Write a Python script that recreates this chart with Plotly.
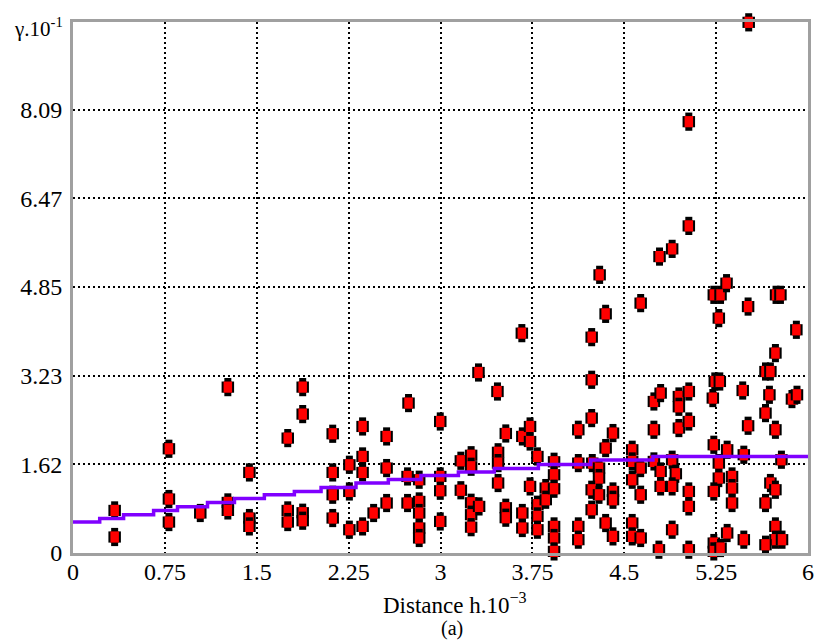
import plotly.graph_objects as go

# ---------------- data ----------------
dist = [
    0.340, 0.340, 0.783, 0.783, 0.783, 1.039, 1.264, 1.264, 1.264, 1.440,
    1.440, 1.440, 1.753, 1.753, 1.753, 1.875, 1.875, 1.875, 1.875, 2.120,
    2.120, 2.120, 2.120, 2.256, 2.256, 2.256, 2.364, 2.364, 2.364, 2.364,
    2.454, 2.560, 2.560, 2.560, 2.739, 2.731, 2.731, 2.826, 2.826, 2.826,
    2.826, 2.826, 2.998, 2.998, 2.998, 2.998, 3.166, 3.166, 3.250, 3.250,
    3.250, 3.250, 3.250, 3.315, 3.310, 3.465, 3.470, 3.470, 3.470, 3.533,
    3.533, 3.533, 3.664, 3.668, 3.731, 3.731, 3.668, 3.668, 3.731, 3.791,
    3.791, 3.791, 3.791, 3.859, 3.859, 3.927, 3.927, 3.927, 3.927, 3.927,
    3.927, 4.125, 4.125, 4.125, 4.125, 4.234, 4.234, 4.234, 4.239, 4.294,
    4.294, 4.234, 4.294, 4.234, 4.299, 4.348, 4.348, 4.408, 4.408, 4.408,
    4.348, 4.408, 4.565, 4.565, 4.634, 4.565, 4.634, 4.565, 4.565, 4.634,
    4.634, 4.742, 4.797, 4.742, 4.742, 4.797, 4.797, 4.783, 4.788, 4.891,
    4.891, 4.921, 4.891, 4.891, 4.946, 4.946, 4.946, 5.027, 5.027, 5.027,
    5.027, 5.027, 5.027, 5.027, 5.231, 5.286, 5.335, 5.272, 5.239, 5.280,
    5.223, 5.231, 5.340, 5.272, 5.272, 5.231, 5.380, 5.380, 5.380, 5.340,
    5.231, 5.231, 5.286, 5.476, 5.467, 5.511, 5.476, 5.511, 5.516, 5.653,
    5.693, 5.734, 5.739, 5.775, 5.905, 5.685, 5.869, 5.910, 5.653, 5.734,
    5.783, 5.693, 5.734, 5.653, 5.734, 5.734, 5.788, 5.653,
]
gamma = [
    0.777, 0.292, 1.902, 0.985, 0.565, 0.730, 3.027, 0.923, 0.777, 1.470,
    0.638, 0.485, 2.097, 0.777, 0.565, 3.027, 2.535, 0.735, 0.589, 2.176,
    1.470, 1.063, 0.638, 1.610, 1.123, 0.425, 2.309, 1.762, 1.470, 0.485,
    0.730, 2.127, 1.550, 0.912, 2.736, 1.397, 0.912, 1.337, 0.941, 0.730,
    0.456, 0.274, 2.400, 1.397, 1.136, 0.576, 1.683, 1.145, 1.784, 1.574,
    0.917, 0.699, 0.471, 0.850, 3.294, 2.947, 1.838, 1.641, 1.277, 2.181,
    0.826, 0.644, 4.012, 2.127, 2.309, 2.035, 0.730, 0.456, 1.215, 1.762,
    0.881, 0.668, 0.425, 1.185, 0.972, 1.665, 1.428, 1.173, 0.485, 0.274,
    0.029, 2.249, 1.641, 0.485, 0.243, 3.939, 3.161, 2.462, 1.641, 1.550,
    1.368, 1.154, 1.063, 0.790, 5.076, 4.364, 1.915, 2.189, 1.123, 0.972,
    0.547, 0.303, 1.884, 1.671, 1.550, 1.337, 1.063, 0.547, 0.303, 0.274,
    4.560, 2.765, 2.918, 2.249, 1.671, 1.488, 1.215, 0.060, 5.409, 5.550,
    1.702, 1.446, 1.215, 0.425, 2.856, 2.668, 2.280, 2.947, 2.400, 1.123,
    0.850, 0.060, 7.871, 5.969, 4.711, 4.711, 4.924, 4.286, 3.130, 3.130,
    2.827, 1.975, 1.884, 1.641, 1.368, 1.123, 1.397, 1.185, 0.912, 0.365,
    0.182, 0.029, 0.091, 0.243, 2.965, 2.322, 1.793, 4.497, 9.684, 3.312,
    3.312, 3.648, 4.711, 4.711, 4.073, 2.887, 2.809, 2.887, 2.553, 2.249,
    1.702, 1.277, 1.154, 0.912, 0.485, 0.243, 0.243, 0.151,
]

# fitted model curve (rendered as steps in the reference)
model_h = [0.0, 0.218, 0.413, 0.658, 0.853, 1.098, 1.318, 1.562, 1.807,
           2.025, 2.310, 2.574, 2.840, 3.146, 3.439, 3.799, 4.226, 4.734, 6.0]
model_gamma = [0.565, 0.631, 0.699, 0.777, 0.844, 0.923, 0.996, 1.063, 1.123,
               1.196, 1.276, 1.342, 1.415, 1.477, 1.543, 1.616, 1.696, 1.762, 1.762]

x_ticks = [0, 0.75, 1.5, 2.25, 3, 3.75, 4.5, 5.25, 6]
x_tick_text = ["0", "0.75", "1.5", "2.25", "3", "3.75", "4.5", "5.25", "6"]
y_ticks = [0, 1.618, 3.236, 4.854, 6.472, 8.09]
y_tick_text = ["0", "1.62", "3.23", "4.85", "6.47", "8.09"]

# ---------------- figure ----------------
FONT = "Liberation Serif"

# each point is drawn as a small pixel-style ellipse: black column, black band, red core
layers = [(13.0, 7, "black"), (8.0, 12.5, "black"), (8.0, 8.5, "#ff0000")]
px, py, psize, pwidth, pcol = [], [], [], [], []
for xv, yv in zip(dist, gamma):
    for s, w, c in layers:
        px.append(xv)
        py.append(yv)
        psize.append(s)
        pwidth.append(w)
        pcol.append(c)

fig = go.Figure()
fig.add_trace(go.Scatter(
    x=px, y=py, mode="markers", cliponaxis=False, showlegend=False,
    marker=dict(symbol="line-ns", size=psize, color=pcol, opacity=1,
                line=dict(width=pwidth, color=pcol)),
))
fig.add_trace(go.Scatter(
    x=model_h, y=model_gamma, mode="lines", line_shape="hv",
    line=dict(color="#8000ff", width=3.5), showlegend=False,
))

axis_common = dict(
    showline=True, linecolor="#a0a0a0", linewidth=3, mirror=True,
    showgrid=True, gridcolor="black", gridwidth=2, griddash="2px,3px",
    zeroline=False, ticks="", automargin=False,
)
fig.update_xaxes(range=[0, 6], tickvals=x_ticks, ticktext=x_tick_text,
                 ticklabelstandoff=-5,
                 tickfont=dict(family=FONT, size=24, color="black"),
                 **axis_common)
fig.update_yaxes(range=[0, 9.69], tickvals=y_ticks, ticktext=y_tick_text,
                 ticklabelstandoff=3,
                 tickfont=dict(family=FONT, size=24, color="black"),
                 **axis_common)

fig.add_annotation(text="γ.10<sup>-1</sup>", xref="paper", yref="paper",
                   x=0, y=1, xanchor="right", yanchor="middle",
                   xshift=-8, yshift=-5, showarrow=False,
                   font=dict(family=FONT, size=21, color="black"))
fig.add_annotation(text="Distance h.10<sup>−3</sup>", xref="paper", yref="paper",
                   x=0.5, y=0, xanchor="center", yanchor="middle",
                   xshift=14, yshift=-50, showarrow=False,
                   font=dict(family=FONT, size=23, color="black"))
fig.add_annotation(text="(a)", xref="paper", yref="paper",
                   x=0.5, y=0, xanchor="center", yanchor="middle",
                   xshift=11, yshift=-75, showarrow=False,
                   font=dict(family=FONT, size=20, color="black"))

fig.update_layout(
    width=815, height=640,
    margin=dict(l=73, r=7, t=22, b=87),
    plot_bgcolor="white", paper_bgcolor="white",
    font=dict(family=FONT, color="black"),
    hovermode=False,
)

fig.write_html(
    "out.html",
    config={"displayModeBar": False},
    post_script="document.body.style.margin='0px';"
                "document.body.style.overflow='hidden';",
)
